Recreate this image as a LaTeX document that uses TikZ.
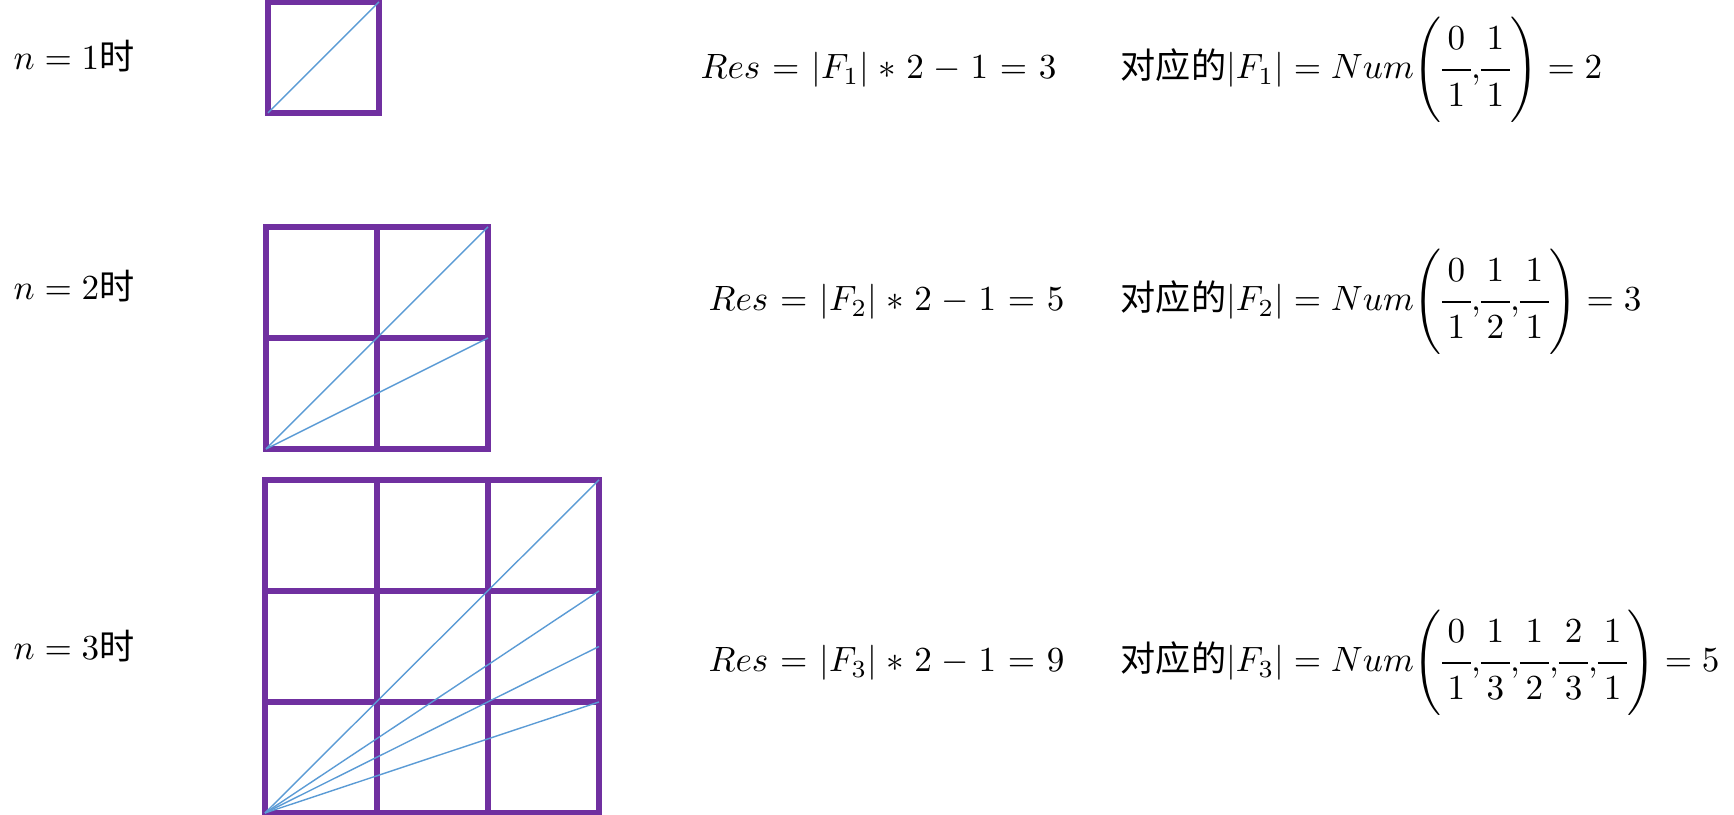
\documentclass[tikz,border=0pt]{standalone}
\usepackage{fontspec}
\usepackage{amsmath}
\newfontfamily\cjk{Noto Sans CJK SC}
\definecolor{gridpurple}{HTML}{7030A0}
\definecolor{rayblue}{HTML}{5B9BD5}
\nulldelimiterspace=0pt
% fraction with room round it
\newcommand\fr[2]{\frac{\,#1\,\rule[-4.5pt]{0pt}{0pt}}{\,#2\,\rule{0pt}{9pt}}}
% wider spacing round = and binary signs
\newcommand\widemath{\thickmuskip=6mu plus 3mu\relax\medmuskip=5mu plus 2mu minus 4mu\relax}

\begin{document}
\begin{tikzpicture}[scale=1,
	gridline/.style={draw=gridpurple, line width=1.7pt},
	rayline/.style={draw=rayblue, line width=0.4pt},
	wide/.style={font=\fontsize{10}{12}\selectfont\widemath},
	every node/.style={font=\fontsize{10}{12}\selectfont, inner sep=0pt}]

	% invisible corners
	\useasboundingbox (0,0) rectangle (17.34,8.15);

	% n = 1
	\draw[gridline] (2.68,7.02) rectangle (3.79,8.13);
	\draw[rayline] (2.68,7.02)--(3.79,8.13);

	% n = 2
	\draw[gridline] (2.66,3.66) rectangle (4.88,5.88);
	\draw[gridline] (3.77,3.66)--(3.77,5.88);
	\draw[gridline] (2.66,4.77)--(4.88,4.77);
	\draw[rayline] (2.66,3.66)--(4.88,5.88);
	\draw[rayline] (2.66,3.66)--(4.88,4.77);

	% n = 3
	\draw[gridline] (2.65,0.02) rectangle (5.99,3.35);
	\draw[gridline] (3.77,0.02)--(3.77,3.35);
	\draw[gridline] (4.88,0.02)--(4.88,3.35);
	\draw[gridline] (2.65,1.13)--(5.99,1.13);
	\draw[gridline] (2.65,2.24)--(5.99,2.24);
	\draw[rayline] (2.65,0.02)--(5.99,3.35);
	\draw[rayline] (2.65,0.02)--(5.99,2.24);
	\draw[rayline] (2.65,0.02)--(5.99,1.685);
	\draw[rayline] (2.65,0.02)--(5.99,1.13);

	% left labels
	\draw (0.13,7.45) node[anchor=base west] (n1) {$n=1${\cjk 时}};
	\draw (0.13,5.15) node[anchor=base west] (n2) {$n=2${\cjk 时}};
	\draw (0.13,1.55) node[anchor=base west] (n3) {$n=3${\cjk 时}};

	% Res
	\draw (7.00,7.36) node[anchor=base west, wide] (res1) {$Res=|F_1|*2-1=3$};
	\draw (7.08,5.04) node[anchor=base west, wide] (res2) {$Res=|F_2|*2-1=5$};
	\draw (7.08,1.43) node[anchor=base west, wide] (res3) {$Res=|F_3|*2-1=9$};

	% Num
	\draw (11.20,7.36) node[anchor=base west] (num1)
		{{\cjk 对应的}$\displaystyle|F_1|=Num\Biggl(\fr{0}{1}{,}\fr{1}{1}\Biggr)=2$};
	\draw (11.20,5.04) node[anchor=base west] (num2)
		{{\cjk 对应的}$\displaystyle|F_2|=Num\Biggl(\fr{0}{1}{,}\fr{1}{2}{,}\fr{1}{1}\Biggr)=3$};
	\draw (11.20,1.43) node[anchor=base west] (num3)
		{{\cjk 对应的}$\displaystyle|F_3|=Num\Biggl(\fr{0}{1}{,}\fr{1}{3}{,}\fr{1}{2}{,}\fr{2}{3}{,}\fr{1}{1}\Biggr)=5$};

\end{tikzpicture}
\end{document}
